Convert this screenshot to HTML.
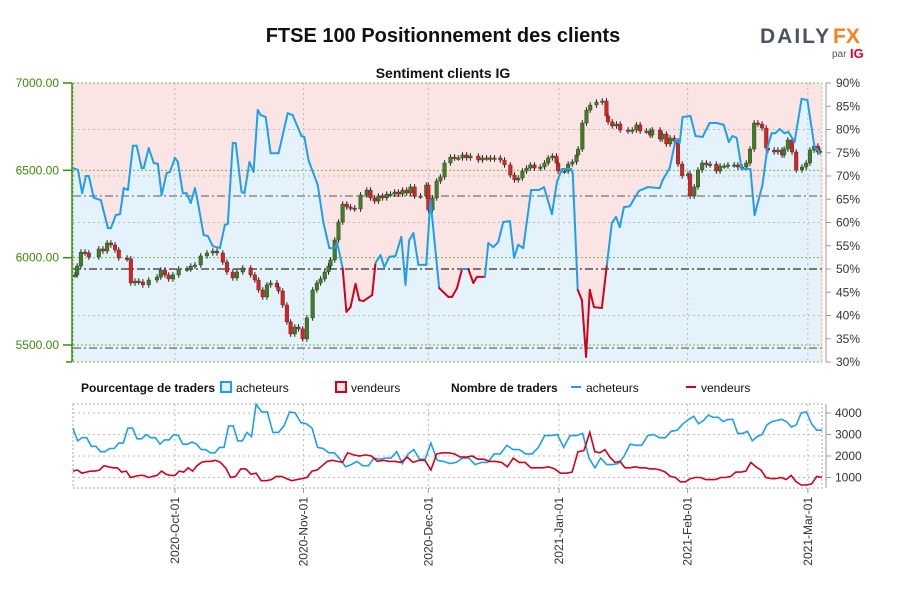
<!DOCTYPE html>
<html><head><meta charset="utf-8"><style>
body{margin:0;background:#fff;}
svg text{font-family:"Liberation Sans",sans-serif;}
</style></head><body>
<svg id="c" width="900" height="600" xmlns="http://www.w3.org/2000/svg">
<text x="443" y="42" text-anchor="middle" font-size="20" font-weight="bold" fill="#111">FTSE 100 Positionnement des clients</text>
<g>
<text x="760" y="43" font-size="21" font-weight="bold" fill="#4a5460" letter-spacing="2">DAILY</text>
<text x="833" y="43" font-size="21" font-weight="bold" fill="#f5821f">FX</text>
<text x="832" y="57" font-size="10" fill="#4a5460">par</text>
<text x="850" y="58" font-size="13" font-weight="bold" fill="#e4002b">IG</text>
</g>
<text x="443" y="78" text-anchor="middle" font-size="14" font-weight="bold" fill="#111">Sentiment clients IG</text>
<g id="main"></g>
<g id="legend">
<text x="81" y="392" font-size="12" font-weight="bold" fill="#111">Pourcentage de traders</text>
<rect x="221" y="382" width="10" height="10" fill="#e3f2fb" stroke="#1fa0e6" stroke-width="2"/>
<text x="236" y="392" font-size="12" fill="#111">acheteurs</text>
<rect x="336" y="382" width="10" height="10" fill="#fbe3e3" stroke="#d0021b" stroke-width="2"/>
<text x="351" y="392" font-size="12" fill="#111">vendeurs</text>
<text x="451" y="392" font-size="12" font-weight="bold" fill="#111">Nombre de traders</text>
<line x1="571" y1="387" x2="581" y2="387" stroke="#1fa0e6" stroke-width="2"/>
<text x="586" y="392" font-size="12" fill="#111">acheteurs</text>
<line x1="686" y1="387" x2="696" y2="387" stroke="#d0021b" stroke-width="2"/>
<text x="701" y="392" font-size="12" fill="#111">vendeurs</text>
</g>
<g id="lower"></g>
</svg>
<script>
const candleDays=[0,1.0,1.9,2.9,3.8,6.2,7.2,8.2,9.1,10.1,11.0,13.0,13.9,14.9,15.8,16.8,18.2,20.2,21.1,22.1,23.0,24.0,25.4,27.4,28.3,29.3,30.7,32.2,33.6,34.6,36.0,37.0,38.4,39.4,40.8,42.7,43.7,44.6,45.6,46.6,47.5,49.0,49.4,50.4,51.4,52.3,53.3,54.2,55.2,56.2,57.6,58.6,59.5,60.5,61.4,61.9,62.9,63.8,64.8,65.8,66.7,67.7,69.1,70.6,71.5,72.5,73.4,74.4,75.4,76.3,77.3,78.2,79.2,80.2,81.1,82.1,83.5,84.9,85.4,86.4,87.4,88.3,89.3,90.7,91.7,92.6,93.6,94.6,95.5,97.4,98.4,99.4,100.3,101.3,102.7,103.7,105.1,106.1,107.0,108.0,109.0,109.9,110.9,112.3,113.3,114.2,115.2,116.2,116.6,118.1,119.0,120.0,121.0,121.4,122.4,123.4,124.3,125.8,127.2,128.2,128.6,129.6,130.6,131.5,133.4,134.4,135.4,136.3,137.8,138.7,139.2,141.1,141.6,142.6,143.5,144.5,145.4,146.4,147.8,148.3,149.3,150.2,151.2,152.2,153.1,154.6,155.5,156.5,157.4,158.9,159.8,160.8,161.8,162.7,163.7,164.6,165.6,166.6,167.0,168.5,169.4,170.4,170.9,171.8,172.8,173.8,175.2,176.2,177.1,178.1,179.0,180];
const closes=[5901,5952,6032,6027,6004,6050,6038,6084,6073,6044,5998,5993,5855,5866,5861,5844,5872,5889,5929,5901,5878,5901,5935,5935,5952,5958,6010,6027,6038,6027,5975,5918,5884,5918,5941,5901,5872,5815,5775,5844,5855,5832,5809,5729,5632,5563,5603,5592,5535,5655,5815,5855,5878,5918,5952,5987,6101,6204,6307,6290,6284,6279,6359,6387,6342,6324,6353,6342,6364,6364,6376,6364,6387,6370,6405,6353,6353,6416,6273,6342,6439,6462,6542,6576,6571,6571,6588,6571,6582,6559,6571,6571,6565,6571,6559,6531,6473,6445,6456,6496,6513,6531,6513,6519,6542,6571,6582,6542,6496,6496,6536,6548,6588,6622,6771,6845,6874,6891,6897,6811,6777,6754,6765,6731,6725,6731,6760,6725,6725,6702,6731,6679,6708,6651,6685,6668,6536,6468,6479,6353,6405,6502,6542,6531,6536,6496,6525,6525,6531,6531,6519,6519,6542,6622,6771,6765,6742,6628,6616,6605,6616,6588,6622,6674,6605,6502,6519,6542,6616,6639,6605,6611];
const pctDays=[0,1.2,2.2,3.1,3.8,5.0,6.7,8.4,9.1,10.3,11.3,12.2,13.2,14.4,15.3,16.5,17.0,18.2,19.4,20.4,21.3,22.5,23.3,24.5,25.2,26.4,27.3,28.3,29.3,30.0,31.4,32.4,33.6,35.3,36.5,37.2,38.4,39.1,40.5,41.2,42.4,43.4,44.4,45.1,46.3,47.5,49.4,51.6,52.8,54.9,55.6,56.6,58.8,60.2,61.6,62.8,63.5,64.8,65.7,66.7,67.9,68.8,69.8,71.9,72.7,73.9,74.8,76.0,77.5,78.9,79.9,80.8,81.8,83.0,84.9,85.9,88.0,90.2,91.1,92.3,93.5,95.0,96.2,97.1,99.0,99.8,101.0,102.2,103.4,105.0,106.0,107.0,108.2,110.1,112.0,113.2,115.1,116.3,117.5,119.7,120.1,121.3,122.3,123.3,124.2,125.2,127.1,128.3,129.5,130.5,131.4,132.4,133.8,136.0,138.1,141.0,141.7,143.4,144.8,145.8,146.5,148.4,149.6,151.3,153.0,154.7,156.4,157.6,158.5,159.5,160.7,162.8,163.8,165.7,166.9,167.9,168.8,169.8,171.0,171.9,173.4,175.1,176.5,178.2,179.4];
const pctBuy=[71.7,71.3,66.3,70.0,70.0,65.3,64.8,58.8,58.8,61.6,61.8,67.4,67.0,76.5,76.5,71.7,71.7,76.0,72.8,72.6,65.9,70.6,70.9,73.9,73.0,66.3,66.3,64.2,67.4,64.4,57.3,57.1,54.9,54.5,59.5,59.7,77.1,77.1,66.6,66.3,73.0,70.9,84.2,83.1,82.7,74.9,74.9,83.5,83.1,78.6,78.4,73.4,68.1,59.9,54.5,54.5,55.6,50.2,40.8,41.8,46.8,43.3,43.1,44.4,51.3,53.0,50.4,52.6,52.8,56.9,46.6,56.2,57.7,50.9,50.9,64.8,45.9,44.0,44.0,45.9,50.0,50.0,47.0,48.3,48.3,55.6,54.7,55.8,60.1,60.3,52.4,55.2,54.5,67.0,67.0,67.6,61.8,68.7,71.5,71.5,70.6,45.5,43.3,31.1,45.5,41.8,41.6,50.9,59.9,61.2,59.0,63.3,63.5,66.8,67.6,67.4,69.1,71.7,77.7,77.1,82.7,82.9,78.6,78.4,81.4,81.4,81.0,77.3,78.6,78.2,71.5,71.5,61.6,68.1,76.2,79.2,79.2,80.1,79.2,79.5,77.3,86.6,86.3,76.2,75.2];
const countBuy=[3300,2700,2850,2850,2450,2450,2200,2200,2350,2350,2600,2600,3300,3300,2800,2800,3000,2850,2850,2550,2750,2750,3000,2950,2550,2550,2650,2550,2300,2300,2150,2150,2400,2400,3400,3400,2700,2700,3100,2900,4400,4050,4050,3100,3100,3400,4050,4000,3550,3500,3300,2400,2350,2150,2150,1850,1500,1600,1750,1550,1550,1900,1850,1900,1900,2200,1650,2100,2300,1850,1850,2600,1800,1750,1650,1700,1900,1900,1600,1700,1700,2100,2100,2500,2300,2300,2100,2100,2400,2950,2950,3000,2400,2950,2950,3050,1900,1450,1900,1600,1600,1650,2000,2550,2500,2500,2950,3000,2850,2850,3150,3200,3500,3700,3850,3500,3650,3900,3800,3800,3600,3700,3700,3050,3050,3150,2700,2900,3000,3450,3600,3650,3700,3600,3350,3450,4000,4050,3500,3200,3200];
const countSell=[1300,1350,1200,1250,1300,1300,1350,1550,1500,1450,1450,1250,1300,1000,1050,1100,1100,1000,1050,1100,1300,1150,1100,1100,1300,1250,1450,1300,1550,1700,1750,1750,1800,1700,1450,1000,1050,1400,1400,1150,1200,850,850,900,1050,1050,950,850,900,950,1000,1300,1350,1550,1750,1800,1750,1700,2150,2050,2000,2050,2000,1750,1800,1750,1750,1700,1950,1700,1800,1800,1350,2100,2150,2150,2100,1950,1950,2000,1850,1850,1750,1750,1700,1500,1900,1700,1700,1450,1450,1450,1500,1400,1200,1200,1250,2200,2250,3100,2200,2150,2300,1950,1700,1750,1450,1450,1500,1450,1450,1400,1400,1350,1250,1050,1000,800,800,950,1000,1000,900,900,900,1000,1000,1050,1250,1250,1300,1700,1500,1350,1000,950,950,1000,900,1100,800,650,650,700,1050,1000];
// date anchors (sample index -> day) for the count series
const buyAnchorIdx=[0,40,56,71,96,113,136,140];
const buyAnchorDay=[0,44,65.5,86,124,148,175,180];
const sellAnchorIdx=[0,31,58,72,99,141,145];
const sellAnchorDay=[0,33,66,86,124.2,175,180];
const priceTicks=[7000,6500,6000,5500];
const pctTicks=[90,85,80,75,70,65,60,55,50,45,40,35,30];
const countTicks=[4000,3000,2000,1000];
const monthLabels=["2020-Oct-01","2020-Nov-01","2020-Dec-01","2021-Jan-01","2021-Feb-01","2021-Mar-01"];
const monthDays=[24.5,55.4,85.4,116.8,147.7,176.6];
const refPct=[65.7,50,33];

const NS="http://www.w3.org/2000/svg";
const X0=73,X1=822,Y0=83,Y1=362,DMAX=180;
const xd=d=>X0+d/DMAX*(X1-X0);
const yP=p=>Y0+(7000-p)*(345-83)/1500;
const yPct=v=>Y0+(90-v)*(Y1-Y0)/60;
const LY0=404,LY1=488;
const yC=v=>413+(4000-v)*(477.5-413)/3000;
function el(tag,attrs,parent){const e=document.createElementNS(NS,tag);for(const k in attrs)e.setAttribute(k,attrs[k]);parent.appendChild(e);return e;}
const main=document.getElementById('main'),lower=document.getElementById('lower');

let bg=el('rect',{x:X0,y:Y0,width:X1-X0,height:Y1-Y0,fill:'#fbe4e4'},main);


let ad='M'+xd(pctDays[0])+','+Y1;
pctDays.forEach((d,i)=>ad+=' L'+xd(d).toFixed(1)+','+yPct(pctBuy[i]).toFixed(1));
ad+=' L'+xd(pctDays[pctDays.length-1])+','+Y1+' Z';
let area=el('path',{d:ad,fill:'#e4f2fb'},main);



pctTicks.forEach(v=>{if(v%10===0&&v!==90&&v!==30&&v!==50){let g=el('line',{x1:X0,x2:X1,y1:yPct(v),y2:yPct(v),stroke:'#bbb','stroke-dasharray':'2,3'},main);

}});
priceTicks.forEach(p=>{let g=el('line',{x1:X0,x2:X1,y1:yP(p),y2:yP(p),stroke:'#7ab648','stroke-dasharray':'2,2'},main);

});
monthDays.forEach(d=>{let g=el('line',{x1:xd(d),x2:xd(d),y1:Y0,y2:Y1,stroke:'#bbb','stroke-dasharray':'2,3'},main);

});
refPct.forEach(v=>{let g=el('line',{x1:X0,x2:X1,y1:yPct(v),y2:yPct(v),stroke:'#777','stroke-width':v===50?2:1.3,'stroke-dasharray':'8,3,2,3'},main);

});
let bl=el('line',{x1:X0,x2:X0,y1:Y0,y2:Y1,stroke:'#7ab648','stroke-dasharray':'2,2'},main);


let br=el('line',{x1:X1,x2:X1,y1:Y0,y2:Y1,stroke:'#bbb','stroke-dasharray':'2,2'},main);


let bb=el('line',{x1:X0,x2:X1,y1:Y1,y2:Y1,stroke:'#7ab648','stroke-dasharray':'2,2'},main);



let la=el('line',{x1:72,x2:72,y1:Y0,y2:Y1,stroke:'#3c8a0e','stroke-width':1.5},main);


el('line',{x1:66,x2:72,y1:Y1,y2:Y1,stroke:'#3c8a0e','stroke-width':1.5},main);
priceTicks.forEach(p=>{el('line',{x1:63,x2:72,y1:yP(p),y2:yP(p),stroke:'#3c8a0e','stroke-width':1.5},main);
let t=el('text',{x:59,y:yP(p)+4,'text-anchor':'end','font-size':12,fill:'#3c8a0e'},main);t.textContent=p.toFixed(2);

});
let ra=el('line',{x1:826,x2:826,y1:Y0,y2:Y1,stroke:'#999'},main);


pctTicks.forEach(v=>{el('line',{x1:826,x2:831,y1:yPct(v),y2:yPct(v),stroke:'#999'},main);
let t=el('text',{x:836,y:yPct(v)+4,'font-size':12,fill:'#333'},main);t.textContent=v+'%';

});

closes.forEach((c,i)=>{const o=i?closes[i-1]:c;const x=Math.min(X1-2,Math.max(X0+2,xd(candleDays[i])));
const hi=Math.max(o,c)+16,lo=Math.min(o,c)-16;
let w=el('line',{x1:x,x2:x,y1:yP(hi),y2:yP(lo),stroke:'#222','stroke-width':1},main);


const top=yP(Math.max(o,c)),h=Math.max(1.5,yP(Math.min(o,c))-top);
let b=el('rect',{x:x-1.8,y:top,width:3.6,height:h,fill:c>=o?'#3f7f1f':'#e02020',stroke:'#333','stroke-width':0.4},main);

});

for(let i=1;i<pctDays.length;i++){const m=(pctBuy[i]+pctBuy[i-1])/2;
let s=el('line',{x1:xd(pctDays[i-1]),y1:yPct(pctBuy[i-1]),x2:xd(pctDays[i]),y2:yPct(pctBuy[i]),stroke:m<50?'#d0021b':'#1fa0e6','stroke-width':2,'stroke-linecap':'round'},main);

}

let lb=el('rect',{x:X0,y:LY0,width:X1-X0,height:LY1-LY0,fill:'none',stroke:'#aaa','stroke-dasharray':'2,2'},lower);


countTicks.forEach(v=>{let g=el('line',{x1:X0,x2:X1,y1:yC(v),y2:yC(v),stroke:'#bbb','stroke-dasharray':'2,3'},lower);


el('line',{x1:826,x2:831,y1:yC(v),y2:yC(v),stroke:'#999'},lower);
let t=el('text',{x:835,y:yC(v)+4,'font-size':12,fill:'#333'},lower);t.textContent=v;

});
let ca=el('line',{x1:826,x2:826,y1:LY0,y2:LY1,stroke:'#999'},lower);


monthDays.forEach((d,i)=>{let g=el('line',{x1:xd(d),x2:xd(d),y1:LY0,y2:LY1,stroke:'#bbb','stroke-dasharray':'2,3'},lower);


el('line',{x1:xd(d),x2:xd(d),y1:LY1,y2:LY1+5,stroke:'#999'},lower);
let t=el('text',{x:0,y:0,'font-size':12,fill:'#333','text-anchor':'end',transform:'translate('+(xd(d)+4)+',497) rotate(-90)'},lower);t.textContent=monthLabels[i];

});
function dayOf(i,ai,ad){for(let k=1;k<ai.length;k++){if(i<=ai[k]){const f=(i-ai[k-1])/(ai[k]-ai[k-1]);return ad[k-1]+f*(ad[k]-ad[k-1]);}}return ad[ad.length-1];}
function series(vals,ai,adays,color,name){let d='';vals.forEach((v,i)=>{d+=(i?' L':'M')+xd(dayOf(i,ai,adays)).toFixed(1)+','+yC(v).toFixed(1);});
let p=el('path',{d:d,fill:'none',stroke:color,'stroke-width':1.6},lower);

}
series(countBuy,buyAnchorIdx,buyAnchorDay,'#1fa0e6','acheteurs-count-line');
series(countSell,sellAnchorIdx,sellAnchorDay,'#d0021b','vendeurs-count-line');
</script>
</body></html>
